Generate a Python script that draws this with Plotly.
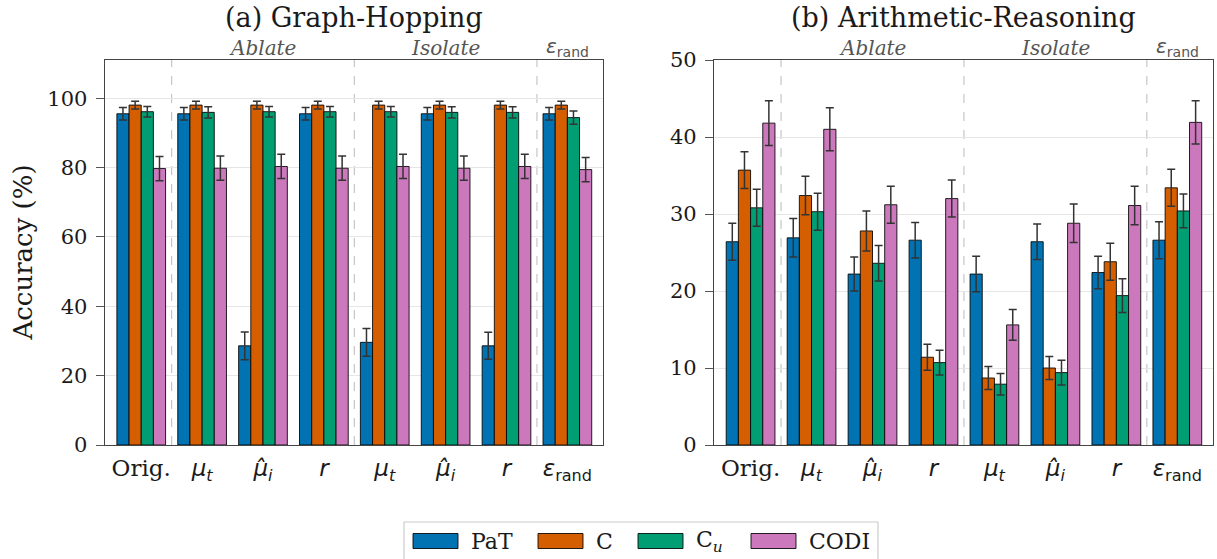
import plotly.graph_objects as go

# ---------------- data ----------------
groups = ["Orig.", "mu_t", "muhat_i", "r", "mu_t", "muhat_i", "r", "eps_rand"]
series = ["PaT", "C", "C_u", "CODI"]
series_labels = ["PaT", "C", "C<sub><i>u</i></sub>", "CODI"]
colors = ["#0173B2", "#D55E00", "#029E73", "#CC78BC"]

gh_pat = [95.5, 95.5, 28.6, 95.5, 29.6, 95.5, 28.6, 95.5]
gh_pat_err = [1.8, 1.8, 4.0, 1.8, 4.0, 1.8, 3.9, 1.8]
gh_c = [98.0, 98.0, 98.0, 98.0, 98.0, 98.0, 98.0, 98.0]
gh_c_err = [1.1, 1.1, 1.1, 1.1, 1.1, 1.1, 1.1, 1.1]
gh_cu = [96.1, 95.9, 96.1, 96.1, 96.1, 95.9, 95.9, 94.4]
gh_cu_err = [1.5, 1.6, 1.5, 1.5, 1.5, 1.6, 1.6, 1.9]
gh_codi = [79.7, 79.8, 80.3, 79.8, 80.3, 79.8, 80.3, 79.4]
gh_codi_err = [3.5, 3.5, 3.5, 3.5, 3.5, 3.5, 3.5, 3.5]

ar_pat = [26.4, 26.9, 22.2, 26.6, 22.2, 26.4, 22.4, 26.6]
ar_pat_err = [2.4, 2.5, 2.2, 2.3, 2.3, 2.3, 2.1, 2.4]
ar_c = [35.7, 32.4, 27.8, 11.4, 8.7, 10.0, 23.8, 33.4]
ar_c_err = [2.4, 2.5, 2.6, 1.7, 1.5, 1.5, 2.4, 2.4]
ar_cu = [30.8, 30.3, 23.6, 10.7, 7.9, 9.4, 19.4, 30.4]
ar_cu_err = [2.4, 2.4, 2.3, 1.6, 1.4, 1.6, 2.2, 2.2]
ar_codi = [41.8, 41.0, 31.2, 32.0, 15.6, 28.8, 31.1, 41.9]
ar_codi_err = [2.9, 2.8, 2.4, 2.4, 2.0, 2.5, 2.5, 2.8]

sections = ["<i>Ablate</i>", "<i>Isolate</i>", "eps"]
section_groups = [[1, 2, 3], [4, 5, 6], [7]]

panel_titles = ["(a) Graph-Hopping", "(b) Arithmetic-Reasoning"]
y_title = "Accuracy (%)"
gh_yticks = [0, 20, 40, 60, 80, 100]
ar_yticks = [0, 10, 20, 30, 40, 50]

# ---------------- styling ----------------
W, H = 1217, 559
SERIF = "DejaVu Serif"
TXT = "#1a1a1a"


def sans(s):
    return '<span style="font-family:DejaVu Sans">' + s + "</span>"


label_map = {
    "Orig.": "Orig.",
    "mu_t": sans("<i>μ</i><sub><i>t</i></sub>"),
    "muhat_i": sans("<i>μ̂</i><sub><i>i</i></sub>"),
    "r": sans("<i>r</i>"),
    "eps_rand": sans("<i>ε</i><sub>rand</sub>"),
}
tick_text = [label_map[g] for g in groups]
eps_label = sans("<i>ε</i><sub>rand</sub>")

xdom = [[104.7 / W, 603.3 / W], [714 / W, 1213.3 / W]]
ydom = [1 - 445 / H, 1 - 60 / H]

fig = go.Figure()

panels = [
    ([gh_pat, gh_c, gh_cu, gh_codi], [gh_pat_err, gh_c_err, gh_cu_err, gh_codi_err]),
    ([ar_pat, ar_c, ar_cu, ar_codi], [ar_pat_err, ar_c_err, ar_cu_err, ar_codi_err]),
]
xs = list(range(len(groups)))

for p, (vals, errs) in enumerate(panels):
    xa = "x" if p == 0 else "x2"
    ya = "y" if p == 0 else "y2"
    for s in range(len(series)):
        fig.add_trace(go.Bar(
            x=xs, y=vals[s], name=series[s],
            marker=dict(color=colors[s], line=dict(color="rgba(0,0,0,0.85)", width=1)),
            error_y=dict(type="data", array=errs[s], visible=True,
                         color="#333333", thickness=1.5, width=4),
            xaxis=xa, yaxis=ya, showlegend=False,
            offsetgroup=str(s),
        ))

axis_common = dict(showline=True, linecolor="#444444", linewidth=1.2, mirror=True,
                   zeroline=False, automargin=False)

xaxis_common = dict(range=[-0.6, 7.59], tickvals=xs, ticktext=tick_text,
                    ticks="", showgrid=False, ticklabelstandoff=2,
                    tickfont=dict(family=SERIF, size=23, color=TXT), **axis_common)
yaxis_common = dict(domain=ydom, ticks="outside", ticklen=8, tickcolor="#555555",
                    tickwidth=1.2, showgrid=True, gridcolor="#e6e6e6", gridwidth=1,
                    ticklabelstandoff=4,
                    tickfont=dict(family=SERIF, size=21, color=TXT), **axis_common)

fig.update_layout(
    width=W, height=H,
    margin=dict(l=0, r=0, t=0, b=0),
    paper_bgcolor="white", plot_bgcolor="white",
    barmode="group", bargap=0.2, bargroupgap=0.0,
    font=dict(family=SERIF, size=21, color=TXT),
    xaxis=dict(domain=xdom[0], anchor="y", **xaxis_common),
    yaxis=dict(range=[0, 111], tickvals=gh_yticks, anchor="x", **yaxis_common),
    xaxis2=dict(domain=xdom[1], anchor="y2", **xaxis_common),
    yaxis2=dict(range=[0, 50], tickvals=ar_yticks, anchor="x2", **yaxis_common),
)


def px(xp):
    return xp / W


def py(yp):
    return 1 - yp / H


annotations = []
shapes = []

# y-axis title
annotations.append(dict(
    text=y_title, xref="paper", yref="paper", x=px(22), y=(ydom[0] + ydom[1]) / 2,
    xanchor="center", yanchor="middle", textangle=-90, showarrow=False,
    font=dict(family=SERIF, size=26, color=TXT)))

for p in range(2):
    xa = "x" if p == 0 else "x2"
    yd = "y domain" if p == 0 else "y2 domain"
    # panel title
    annotations.append(dict(
        text=panel_titles[p], xref="paper", yref="paper",
        x=(xdom[p][0] + xdom[p][1]) / 2, y=py(18),
        xanchor="center", yanchor="middle", showarrow=False,
        font=dict(family=SERIF, size=27, color=TXT)))
    # section labels and dividers
    for k, sec in enumerate(section_groups):
        center = sum(sec) / len(sec)
        txt = eps_label if sections[k] == "eps" else sections[k]
        annotations.append(dict(
            text=txt, xref=xa, yref=yd,
            x=center, y=1.0, xanchor="center", yanchor="bottom", showarrow=False,
            yshift=-2, font=dict(family=SERIF, size=20, color="#555555")))
        boundary = sec[0] - 0.5
        shapes.append(dict(
            type="line", xref=xa, yref=yd,
            x0=boundary, x1=boundary, y0=0, y1=1,
            line=dict(color="#bbbbbb", width=1, dash="dash"), layer="below"))

# manual legend (matplotlib style wide patches)
shapes.append(dict(type="rect", xref="paper", yref="paper",
                   x0=px(404), x1=px(878), y0=py(585), y1=py(522),
                   line=dict(color="#cccccc", width=1.2), fillcolor="white"))
patch_x = [413, 538, 638, 751]
for s in range(len(series)):
    shapes.append(dict(type="rect", xref="paper", yref="paper",
                       x0=px(patch_x[s]), x1=px(patch_x[s] + 45),
                       y0=py(548.5), y1=py(533.5),
                       line=dict(color="rgba(0,0,0,0.85)", width=1),
                       fillcolor=colors[s]))
    annotations.append(dict(
        text=series_labels[s], xref="paper", yref="paper",
        x=px(patch_x[s] + 56), y=py(541), xanchor="left", yanchor="middle",
        showarrow=False, font=dict(family=SERIF, size=22, color=TXT)))

fig.update_layout(annotations=annotations, shapes=shapes)

fig.write_html("out.html")
